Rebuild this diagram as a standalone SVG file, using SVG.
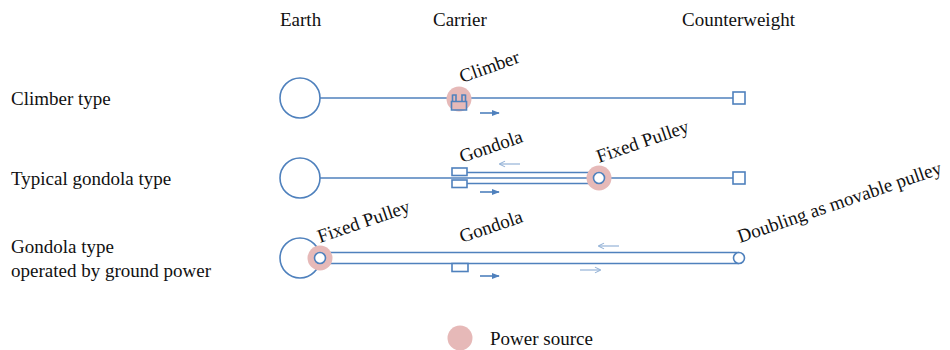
<svg xmlns="http://www.w3.org/2000/svg" width="950" height="350" viewBox="0 0 950 350">
<defs>
<style>
text{font-family:"Liberation Serif","Times New Roman",serif;font-size:19px;fill:#111}
.ln{fill:none;stroke:#4F81BD;stroke-width:1.6}
.wf{fill:#fff;stroke:#4F81BD;stroke-width:1.6}
.pw{fill:#E6B9B8}
.ar{fill:none;stroke:#4F81BD;stroke-width:1.6}
.al{fill:none;stroke:#95B3D7;stroke-width:1.2}
</style>
<marker id="ah" viewBox="0 0 10 10" refX="9" refY="5" markerWidth="5" markerHeight="5" orient="auto"><path d="M0,1 L10,5 L0,9 Z" fill="#4F81BD"/></marker>
<marker id="ahl" viewBox="0 0 10 10" refX="9" refY="5" markerWidth="6" markerHeight="6" orient="auto"><path d="M2,1 L10,5 L2,9" fill="none" stroke="#95B3D7" stroke-width="1.5"/></marker>
</defs>
<rect width="950" height="350" fill="#fff"/>
<g id="headers" font-family="Liberation Serif, serif">
<text x="280" y="26">Earth</text>
<text x="433" y="26">Carrier</text>
<text x="682" y="26">Counterweight</text>
</g>
<g id="row-labels" font-family="Liberation Serif, serif">
<text x="11" y="105">Climber type</text>
<text x="11" y="185">Typical gondola type</text>
<text x="11" y="253">Gondola type</text>
<text x="11" y="277">operated by ground power</text>
</g>
<g id="connectors">
<line class="ln" x1="320" y1="98" x2="733" y2="98"/>
<line class="ln" x1="320" y1="178" x2="733" y2="178"/>
<path class="ln" d="M467,172.5 H599 M467,183.5 H599"/>
<path class="ln" d="M320,252.5 H739 M320,263.5 H739"/>
<line class="ar" x1="480" y1="113" x2="499" y2="113" marker-end="url(#ah)"/>
<line class="al" x1="520" y1="164" x2="500" y2="164" marker-end="url(#ahl)"/>
<line class="ar" x1="480" y1="192" x2="499" y2="192" marker-end="url(#ah)"/>
<line class="ar" x1="480" y1="276" x2="499" y2="276" marker-end="url(#ah)"/>
<line class="al" x1="619" y1="246" x2="599" y2="246" marker-end="url(#ahl)"/>
<line class="al" x1="580" y1="270" x2="600" y2="270" marker-end="url(#ahl)"/>
</g>
<g id="earth1"><circle class="wf" cx="300" cy="98" r="20"/></g>
<g id="earth2"><circle class="wf" cx="300" cy="178" r="20"/></g>
<g id="earth3"><circle class="wf" cx="300" cy="258" r="20"/></g>
<g id="cw1"><rect class="wf" x="733" y="92" width="12" height="12"/></g>
<g id="cw2"><rect class="wf" x="733" y="172" width="12" height="12"/></g>
<g id="climber">
<circle class="pw" cx="459" cy="99" r="12.5"/>
<path class="ln" d="M451.5,101.5 H466.5 V110 H451.5 Z M452.5,101.5 V94.5 M465.5,101.5 V94.5 M452.5,95 H456 V101.5 M465.5,95 H462 V101.5"/>
<text transform="translate(462,83) rotate(-19.5)" font-family="Liberation Serif, serif">Climber</text>
</g>
<g id="gondola2">
<rect class="wf" x="452" y="168" width="15" height="7.5"/>
<rect class="wf" x="452" y="180" width="15" height="7.5"/>
<text transform="translate(462,163) rotate(-19)" font-family="Liberation Serif, serif">Gondola</text>
</g>
<g id="pulley2">
<circle class="pw" cx="599" cy="178" r="12.5"/>
<circle class="wf" cx="599" cy="178" r="5.5"/>
<text transform="translate(599,163) rotate(-19)" font-family="Liberation Serif, serif">Fixed Pulley</text>
</g>
<g id="pulley3">
<circle class="pw" cx="320" cy="258" r="12.5"/>
<circle class="wf" cx="320" cy="258" r="5.5"/>
<text transform="translate(320,243) rotate(-19)" font-family="Liberation Serif, serif">Fixed Pulley</text>
</g>
<g id="gondola3">
<rect class="wf" x="452" y="263.5" width="16" height="8"/>
<text transform="translate(462,243) rotate(-19)" font-family="Liberation Serif, serif">Gondola</text>
</g>
<g id="movable-pulley">
<circle class="wf" cx="739" cy="258" r="5.5"/>
<text transform="translate(740,243) rotate(-19)" font-family="Liberation Serif, serif">Doubling as movable pulley</text>
</g>
<g id="legend">
<circle class="pw" cx="460" cy="338" r="12.5"/>
<text x="490" y="345" font-family="Liberation Serif, serif">Power source</text>
</g>
</svg>
